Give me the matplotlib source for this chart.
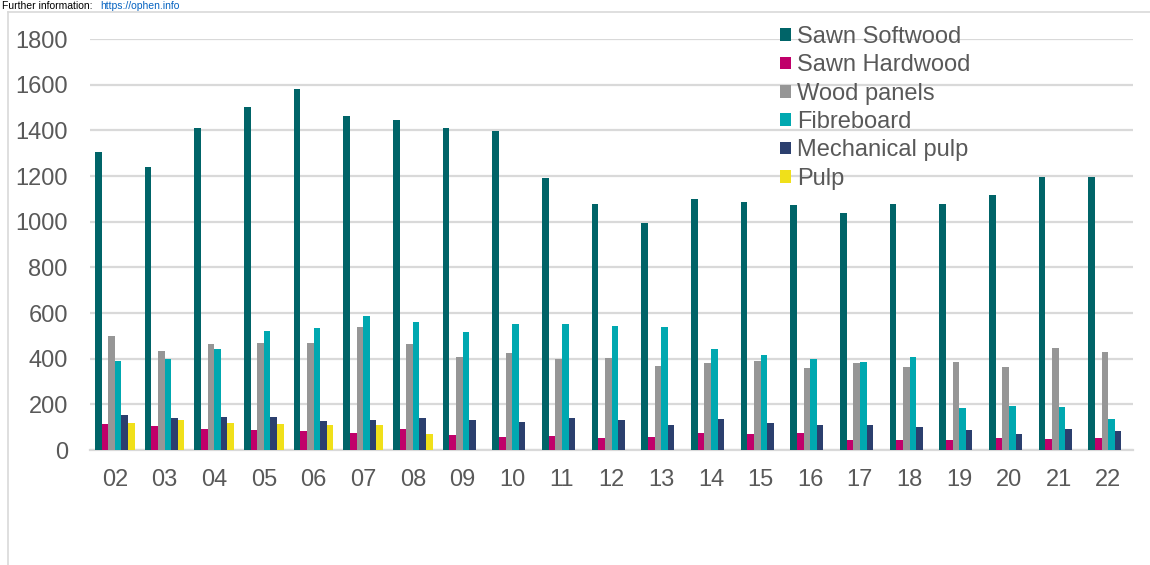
import numpy as np
import matplotlib
matplotlib.use("Agg")
import matplotlib.pyplot as plt
from matplotlib.lines import Line2D

plt.rcParams["font.family"] = ["Liberation Sans", "DejaVu Sans"]

years = ["02", "03", "04", "05", "06", "07", "08", "09", "10", "11", "12",
         "13", "14", "15", "16", "17", "18", "19", "20", "21", "22"]

sawn_softwood = [1305, 1240, 1410, 1502, 1581, 1464, 1447, 1412, 1397, 1191, 1077,
                 994, 1099, 1086, 1073, 1038, 1077, 1077, 1117, 1196, 1196]
sawn_hardwood = [115, 104, 93, 89, 83, 76, 91, 67, 57, 61, 53,
                 57, 73, 72, 76, 45, 44, 45, 53, 50, 54]
wood_panels = [501, 435, 463, 470, 470, 540, 463, 409, 426, 400, 404,
               369, 383, 391, 361, 381, 365, 387, 365, 448, 428]
fibreboard = [391, 400, 444, 523, 536, 587, 559, 517, 553, 553, 543,
              539, 442, 418, 400, 387, 409, 184, 191, 188, 134]
mechanical_pulp = [155, 139, 146, 146, 127, 133, 139, 130, 123, 140, 131,
                   111, 134, 118, 111, 110, 99, 89, 70, 93, 85]
pulp = [120, 133, 120, 114, 108, 108, 70, np.nan, np.nan, np.nan, np.nan,
        np.nan, np.nan, np.nan, np.nan, np.nan, np.nan, np.nan, np.nan, np.nan, np.nan]

series = [
    ("Sawn Softwood", sawn_softwood, "#006468"),
    ("Sawn Hardwood", sawn_hardwood, "#C0006A"),
    ("Wood panels", wood_panels, "#969696"),
    ("Fibreboard", fibreboard, "#00A8B0"),
    ("Mechanical pulp", mechanical_pulp, "#2B3F6E"),
    ("Pulp", pulp, "#F0E01A"),
]

fig = plt.figure(figsize=(11.5, 5.65), dpi=100)
ax = fig.add_axes([0.0783, 0.2035, 0.907, 0.7274])

x = np.arange(len(years))
w = 0.133
for i, (name, vals, col) in enumerate(series):
    ax.bar(x + (i - 2.5) * w, vals, width=w, color=col, label=name,
           edgecolor="none", zorder=3)

ax.set_xlim(-0.5, len(years) - 0.5)
ax.set_ylim(0, 1800)
ax.set_yticks(range(0, 1801, 200))
ax.set_xticks(x)
ax.set_xticklabels(years)
ax.yaxis.grid(True, color="#d9d9d9", linewidth=1.6, zorder=0)
ax.set_axisbelow(True)
for s in ["left", "right", "top"]:
    ax.spines[s].set_visible(False)
ax.spines["bottom"].set_color("#d9d9d9")
ax.spines["bottom"].set_linewidth(1.6)
ax.tick_params(axis="both", length=0, labelsize=17, colors="#595959")
ax.tick_params(axis="y", pad=16)
ax.tick_params(axis="x", pad=14)

leg = ax.legend(loc="upper left", bbox_to_anchor=(0.6616, 1.032), frameon=False,
                fontsize=17, handlelength=0.45, handleheight=0.45,
                handletextpad=0.25, labelspacing=0.27, borderaxespad=0,
                borderpad=0)
for t in leg.get_texts():
    t.set_color("#595959")

# frame of the embedded chart
fig.add_artist(Line2D([8 / 1150, 8 / 1150], [0, 1 - 12 / 565],
                      color="#d9d9d9", linewidth=1.2))
fig.add_artist(Line2D([8 / 1150, 1], [1 - 12 / 565, 1 - 12 / 565],
                      color="#d9d9d9", linewidth=1.2))

# header text above the frame
fig.text(2 / 1150, 1 - 9 / 565, "Further information:", fontsize=7.5,
         color="black", va="baseline", ha="left")
fig.text(100 / 1150, 1 - 9 / 565, "https://ophen.info", fontsize=7.5,
         color="#0563C1", va="baseline", ha="left")

fig.savefig("out.png", dpi=100)
